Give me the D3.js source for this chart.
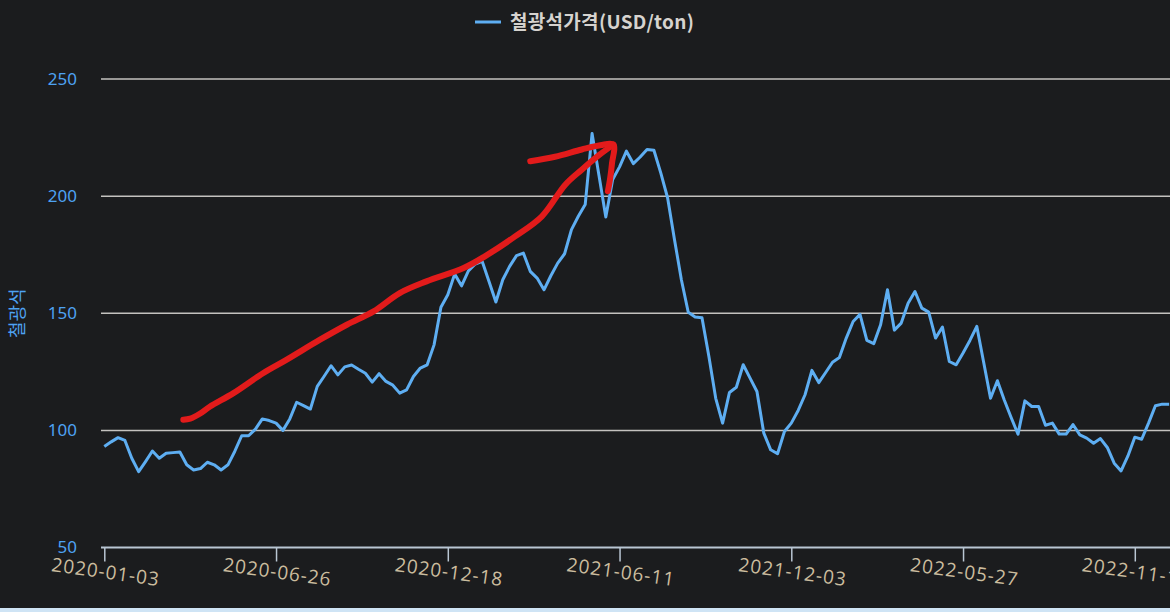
<!DOCTYPE html>
<html>
<head>
<meta charset="utf-8">
<script src="https://cdn.jsdelivr.net/npm/d3@7"></script>
<style>
  html, body { margin: 0; padding: 0; background: #1b1c1e; overflow: hidden; }
  svg { display: block; }
</style>
</head>
<body>
<svg id="chart" width="1170" height="612"></svg>
<script>
// ---- data ----
const startDate = "2020-01-03";
const seriesName = "철광석가격(USD/ton)";
const yTitle = "철광석";
const ironOre = [
  93.1, 95.1, 96.9, 95.7, 88.1, 82.4, 86.7, 91.2, 88.1, 90.2,
  90.5, 90.8, 85.3, 83.1, 83.7, 86.4, 85.3, 83.1, 85.3, 91.1,
  97.7, 97.7, 100.5, 104.9, 104.2, 103.1, 100.0, 104.9, 112.0, 110.6,
  109.1, 118.8, 123.1, 127.6, 123.7, 127.1, 127.9, 126.1, 124.4, 120.6,
  124.2, 120.9, 119.3, 115.9, 117.3, 123.0, 126.6, 128.0, 136.5, 152.6,
  157.9, 166.7, 161.7, 168.1, 171.0, 172.2, 163.6, 154.8, 164.3, 170.0,
  174.6, 175.7, 167.9, 165.0, 160.0, 166.0, 171.4, 175.4, 185.7, 191.4,
  196.4, 226.7, 208.9, 191.1, 207.1, 212.5, 219.2, 213.9, 216.7, 219.9,
  219.6, 209.9, 199.2, 181.4, 164.3, 150.4, 148.4, 148.1, 131.6, 113.7,
  103.1, 116.2, 118.4, 128.0, 122.3, 116.6, 98.8, 91.7, 90.0, 99.5,
  103.1, 108.5, 115.2, 125.6, 120.4, 124.7, 129.1, 131.1, 139.4, 146.5,
  149.5, 138.4, 137.0, 145.1, 160.0, 142.8, 145.8, 154.3, 159.3, 152.2,
  150.5, 139.4, 144.1, 129.4, 128.0, 133.0, 138.4, 144.4, 129.1, 113.7,
  121.2, 113.0, 105.5, 98.4, 112.6, 110.2, 110.2, 102.2, 103.1, 98.4,
  98.4, 102.5, 98.1, 96.7, 94.5, 96.5, 92.7, 86.0, 82.7, 89.1,
  97.1, 96.2, 103.1, 110.5, 111.2, 111.2
];
const xTickLabels = ["2020-01-03", "2020-06-26", "2020-12-18", "2021-06-11", "2021-12-03", "2022-05-27", "2022-11-18"];
const yTicks = [50, 100, 150, 200, 250];
// hand-drawn red annotation, in (week index, value) coordinates
const arrowBody = [
  [11.5, 104.5], [12.5, 105.0], [13.9, 107.1], [15.4, 110.2], [18.8, 115.9],
  [23.1, 124.4], [26.5, 130.1], [31.4, 138.7], [35.3, 145.1], [39.2, 150.8],
  [43.0, 158.6], [46.9, 163.6], [52.3, 169.3], [55.4, 174.3], [59.8, 182.8],
  [63.7, 191.4], [67.1, 204.9], [69.5, 211.3], [72.0, 217.5], [74.1, 222.0]
];
const arrowHead = [
  [62.0, 214.9], [65.6, 216.8], [69.5, 219.9], [72.2, 221.7], [74.1, 222.0],
  [73.9, 214.0], [73.6, 207.0], [73.3, 202.1]
];

// ---- layout ----
const W = 1170, H = 612;
const plotLeft = 101, plotRight = 1170;
const svg = d3.select("#chart");
const parse = d3.timeParse("%Y-%m-%d");
const fmt = d3.timeFormat("%Y-%m-%d");
const t0 = parse(startDate);
const dates = ironOre.map((v, i) => d3.timeDay.offset(t0, 7 * i));
const idxToDate = i => new Date(t0.getTime() + i * 7 * 864e5);

const x = d3.scaleTime()
  .domain([dates[0], dates[dates.length - 1]])
  .range([104.3, 104.3 + 6.87 * (dates.length - 1)]);
const y = d3.scaleLinear().domain([50, 250]).range([547.5, 79]);

svg.append("rect").attr("width", W).attr("height", H).attr("fill", "#1b1c1e");

// gridlines
svg.append("g").selectAll("line")
  .data(yTicks.filter(d => d > 50))
  .join("line")
  .attr("x1", plotLeft).attr("x2", plotRight)
  .attr("y1", d => y(d)).attr("y2", d => y(d))
  .attr("stroke", "#c4c2bf").attr("stroke-width", 1.5);

// y axis labels
const yAxis = svg.append("g")
  .attr("transform", `translate(${plotLeft},0)`)
  .call(d3.axisLeft(y).tickValues(yTicks).tickSize(0).tickPadding(24));
yAxis.select(".domain").remove();
yAxis.selectAll("text")
  .attr("fill", "#4ea2f2")
  .style("font-family", "'Noto Sans', 'DejaVu Sans', sans-serif")
  .style("font-size", "17px");

// y title
svg.append("text")
  .attr("transform", `translate(24,${y(150)}) rotate(-90)`)
  .attr("text-anchor", "middle")
  .attr("fill", "#4ea2f2")
  .style("font-family", "'Noto Sans CJK KR', sans-serif")
  .style("font-size", "18px")
  .text(yTitle);

// x axis
svg.append("line")
  .attr("x1", plotLeft).attr("x2", plotRight)
  .attr("y1", y(50)).attr("y2", y(50))
  .attr("stroke", "#b9c6d3").attr("stroke-width", 2);

const xAxis = svg.append("g")
  .attr("transform", `translate(0,${y(50)})`)
  .call(d3.axisBottom(x).tickValues(xTickLabels.map(parse)).tickFormat(fmt).tickSize(14).tickPadding(0));
xAxis.select(".domain").remove();
xAxis.selectAll(".tick line").attr("stroke", "#b9c6d3").attr("stroke-width", 1.5);
xAxis.selectAll(".tick text")
  .attr("y", 0).attr("dy", 0)
  .attr("transform", "translate(0,31) rotate(8)")
  .attr("text-anchor", "middle")
  .attr("fill", "#cbbd9f")
  .style("font-family", "'Open Sans', 'Noto Sans', sans-serif")
  .style("font-size", "19px")
  .style("letter-spacing", "1px");

// series line
const line = d3.line().x((d, i) => x(dates[i])).y(d => y(d));
svg.append("path")
  .datum(ironOre)
  .attr("fill", "none")
  .attr("stroke", "#5eaef2")
  .attr("stroke-width", 3)
  .attr("stroke-linejoin", "round")
  .attr("d", line);

// red annotation
const annLine = d3.line()
  .x(d => x(idxToDate(d[0])))
  .y(d => y(d[1]))
  .curve(d3.curveCatmullRom);
[arrowBody, arrowHead].forEach(pts => {
  svg.append("path")
    .datum(pts)
    .attr("fill", "none")
    .attr("stroke", "#e21b1b")
    .attr("stroke-width", 6)
    .attr("stroke-linecap", "round")
    .attr("stroke-linejoin", "round")
    .attr("d", annLine);
});

// legend
const lg = svg.append("g");
lg.append("line")
  .attr("x1", 475).attr("x2", 501).attr("y1", 22).attr("y2", 22)
  .attr("stroke", "#5eaef2").attr("stroke-width", 3);
lg.append("text")
  .attr("x", 510).attr("y", 29)
  .attr("fill", "#d6d3cf")
  .style("font-family", "'Noto Sans CJK KR', sans-serif")
  .style("font-weight", "bold")
  .style("font-size", "19px")
  .style("letter-spacing", "0.3px")
  .text(seriesName);

// bottom strip
svg.append("rect")
  .attr("x", 0).attr("y", 608).attr("width", W).attr("height", 4)
  .attr("fill", "#cfe4f5");
</script>
</body>
</html>
